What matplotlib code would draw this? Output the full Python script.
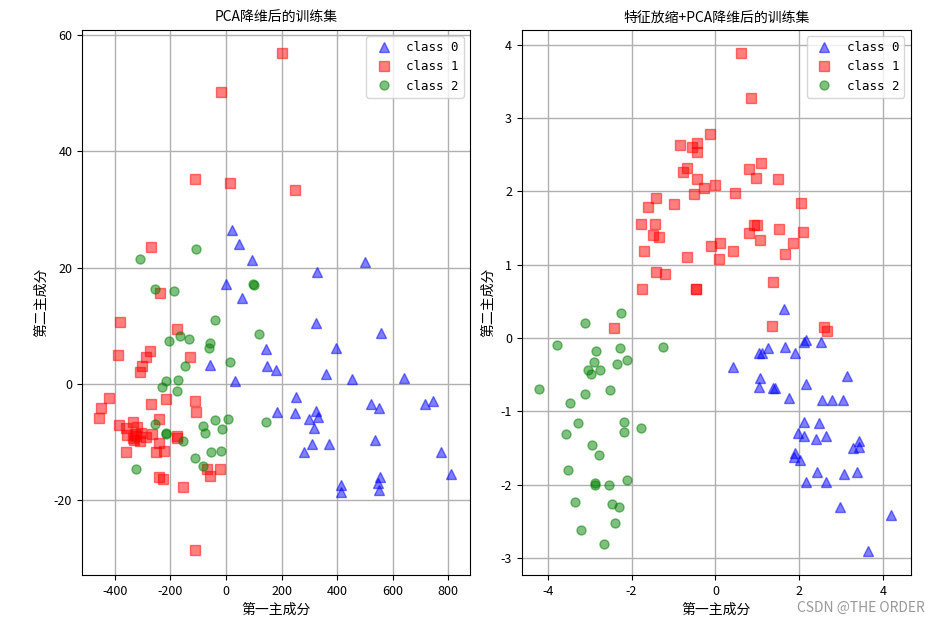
import matplotlib
matplotlib.use("Agg")
import matplotlib.pyplot as plt

plt.rcParams['font.family'] = ['Noto Sans CJK SC', 'DejaVu Sans']
plt.rcParams['axes.unicode_minus'] = False

# PCA on raw features
pca_c0_x = [23, 47, 95, 329, 500, 0, 59, 325, 558, 397, 361, 455, 641, 252, 247, 325, 330,
            298, 316, 522, 551, 715, 744, 311, 370, 280, 536, 775, 811, 415, 415, 553, 546,
            550, 144, -59, 149, 180, 31, 185]
pca_c0_y = [26.4, 24.0, 21.3, 19.2, 21.0, 17.1, 14.8, 10.4, 8.7, 6.1, 1.7, 0.8, 1.0, -2.2, -5.0,
            -4.6, -5.7, -6.1, -7.6, -3.5, -4.1, -3.5, -3.0, -10.4, -10.4, -11.7, -9.7, -11.7,
            -15.5, -17.5, -18.6, -16.1, -17.1, -18.2, 6.0, 3.2, 3.0, 2.3, 0.4, -4.8]

pca_c1_x = [203, -17, -112, 15, 248, -270, -238, -382, -175, -390, -274, -288, -302, -310,
            -130, -422, -450, -458, -270, -216, -242, -113, -108, -386, -359, -334, -319,
            -357, -328, -334, -310, -288, -266, -242, -252, -224, -359, -175, -177, -67,
            -23, -58, -242, -228, -156, -113, -322, -330, -305]
pca_c1_y = [57.0, 50.3, 35.2, 34.6, 33.3, 23.6, 15.7, 10.7, 9.5, 4.9, 5.6, 4.7, 3.0, 2.1,
            4.7, -2.4, -4.1, -5.8, -3.5, -2.6, -6.1, -2.9, -4.9, -7.1, -7.6, -6.5, -7.5,
            -8.8, -8.6, -9.3, -9.9, -9.2, -8.6, -10.1, -11.8, -11.5, -11.8, -9.3, -9.0,
            -14.7, -14.6, -15.9, -16.1, -16.3, -17.8, -28.6, -8.9, -9.6, -8.4]

pca_c2_x = [-310, -108, -256, -187, 98, 100, -40, 118, -206, -166, -134, -57, -62, 14, -148,
            -216, -174, -229, -175, -256, -216, -214, -156, -84, -40, 6, -76, -13, 145, -112,
            -54, -17, -84, -323]
pca_c2_y = [21.5, 23.2, 16.3, 15.9, 17.2, 17.0, 10.9, 8.6, 7.3, 8.3, 7.7, 7.1, 6.2, 3.8, 3.0,
            0.5, 0.7, -0.5, -1.3, -6.9, -8.6, -8.5, -9.9, -7.2, -6.2, -6.0, -8.4, -7.7, -6.6,
            -12.7, -11.8, -11.6, -14.2, -14.6]

# PCA after feature scaling
sc_c0_x = [1.63, 2.16, 2.12, 2.53, 1.25, 1.66, 1.11, 1.05, 1.89, 0.43, 3.14, 1.07, 1.04, 1.37,
           1.42, 2.16, 1.75, 2.55, 2.77, 3.05, 2.11, 2.46, 1.98, 2.11, 2.40, 2.64, 3.42, 3.28,
           3.43, 1.89, 1.87, 2.01, 2.43, 3.06, 3.39, 2.16, 2.64, 2.98, 4.19, 3.63]
sc_c0_y = [0.40, -0.02, -0.06, -0.05, -0.14, -0.12, -0.20, -0.21, -0.20, -0.40, -0.52, -0.55,
           -0.67, -0.68, -0.68, -0.63, -0.82, -0.85, -0.85, -0.84, -1.14, -1.16, -1.30, -1.33,
           -1.38, -1.33, -1.40, -1.50, -1.48, -1.57, -1.62, -1.66, -1.83, -1.85, -1.82, -1.96,
           -1.96, -2.30, -2.41, -2.90]

sc_c1_x = [0.85, 0.61, -0.13, -0.84, -0.55, -0.43, -0.43, -0.67, -0.78, -0.43, -0.27, -0.01,
           -0.51, 0.47, 0.80, 1.09, 0.97, 1.49, 2.05, -1.41, -1.61, -0.99, -1.77, -1.44, -1.48,
           -1.35, -1.71, -0.67, -0.10, 0.10, 0.09, 0.43, 0.92, 1.00, 0.80, 1.07, 1.51, 2.09,
           1.84, 1.66, -1.41, -1.20, 1.38, -1.74, -0.46, -0.46, 1.36, 2.59, 2.67, -2.42]
sc_c1_y = [3.27, 3.89, 2.78, 2.63, 2.61, 2.66, 2.53, 2.32, 2.27, 2.17, 2.05, 2.08, 1.96, 1.98,
           2.30, 2.39, 2.18, 2.17, 1.84, 1.91, 1.79, 1.83, 1.55, 1.55, 1.40, 1.38, 1.19, 1.11,
           1.25, 1.29, 1.08, 1.19, 1.54, 1.54, 1.43, 1.33, 1.49, 1.45, 1.29, 1.14, 0.90, 0.87,
           0.77, 0.67, 0.67, 0.67, 0.17, 0.15, 0.10, 0.14]

sc_c2_x = [-2.24, -3.11, -3.79, -2.84, -2.28, -1.26, -2.90, -2.34, -2.12, -3.03, -2.97, -2.75,
           -4.21, -3.11, -2.52, -3.47, -3.28, -3.56, -2.19, -2.19, -1.77, -2.94, -2.78, -3.52,
           -2.87, -2.87, -2.54, -2.12, -3.34, -2.46, -2.31, -2.39, -3.21, -2.66]
sc_c2_y = [0.34, 0.20, -0.10, -0.17, -0.13, -0.12, -0.32, -0.36, -0.30, -0.44, -0.49, -0.44,
           -0.69, -0.76, -0.71, -0.89, -1.16, -1.31, -1.14, -1.28, -1.22, -1.46, -1.60, -1.80,
           -1.97, -2.01, -2.01, -1.93, -2.24, -2.26, -2.30, -2.52, -2.62, -2.81]

labels = ['class 0', 'class 1', 'class 2']
markers = ['^', 's', 'o']
colors = ['blue', 'red', 'green']

fig = plt.figure(figsize=(9.39, 6.22), dpi=100)
ax1 = fig.add_axes([0.0873, 0.0756, 0.4132, 0.8762])
ax2 = fig.add_axes([0.5556, 0.0756, 0.4143, 0.8762])

panels = [
    (ax1, [(pca_c0_x, pca_c0_y), (pca_c1_x, pca_c1_y), (pca_c2_x, pca_c2_y)], 'PCA降维后的训练集'),
    (ax2, [(sc_c0_x, sc_c0_y), (sc_c1_x, sc_c1_y), (sc_c2_x, sc_c2_y)], '特征放缩+PCA降维后的训练集'),
]
for ax, series, title in panels:
    for (xs, ys), lab, m, c in zip(series, labels, markers, colors):
        ax.plot(xs, ys, m, color=c, alpha=0.5, label=lab, markersize=6.5)
    ax.set_title(title, fontsize=10)
    ax.set_xlabel('第一主成分', fontsize=10)
    ax.set_ylabel('第二主成分', fontsize=10)
    ax.grid(True, color='#b0b0b0', linewidth=1)
    ax.set_axisbelow(True)
    ax.tick_params(labelsize=9)
    leg = ax.legend(loc='upper right', numpoints=1, fontsize=9)
    for t in leg.get_texts():
        t.set_family('DejaVu Sans Mono')

ax1.set_xlim(-518, 878)
ax1.set_ylim(-32.9, 60.9)
ax1.set_xticks([-400, -200, 0, 200, 400, 600, 800])
ax1.set_yticks([-20, 0, 20, 40, 60])

ax2.set_xlim(-4.62, 4.66)
ax2.set_ylim(-3.23, 4.2)
ax2.set_xticks([-4, -2, 0, 2, 4])
ax2.set_yticks([-3, -2, -1, 0, 1, 2, 3, 4])

fig.text(0.985, 0.012, 'CSDN @THE ORDER', ha='right', va='bottom', color='#999999', fontsize=10)

plt.savefig('out.png', dpi=100)
